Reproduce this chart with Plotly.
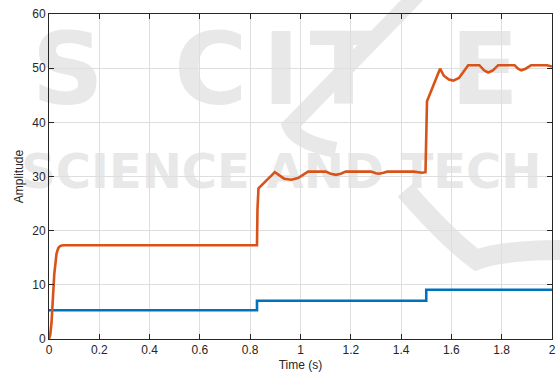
import plotly.graph_objects as go

# Reference input (step) and system response
t_ref = [0.0, 0.827, 1.5, 2.0]
u_ref = [5.3, 7.07, 9.1, 9.1]

t_out = [0, 0.005, 0.01, 0.015, 0.021, 0.03, 0.037, 0.043, 0.05, 0.06,
         0.827, 0.829, 0.833, 0.898, 0.915, 0.935, 0.964, 0.99, 1.01, 1.03,
         1.10, 1.12, 1.141, 1.16, 1.18, 1.28, 1.30, 1.312, 1.33, 1.345,
         1.45, 1.47, 1.483, 1.497, 1.5, 1.503, 1.555, 1.57, 1.59, 1.608,
         1.63, 1.65, 1.667, 1.711, 1.73, 1.746, 1.765, 1.786, 1.851, 1.865,
         1.878, 1.895, 1.917, 1.98, 2.0]
y_out = [0, 0.8, 3, 7, 12, 15.8, 16.8, 17.1, 17.25, 17.3,
         17.3, 24, 27.8, 30.8, 30.2, 29.6, 29.4, 29.7, 30.3, 30.9,
         30.9, 30.5, 30.3, 30.5, 30.9, 30.9, 30.6, 30.5, 30.7, 30.9,
         30.9, 30.75, 30.7, 30.8, 38, 43.9, 49.9, 48.6, 47.9, 47.7,
         48.2, 49.6, 50.55, 50.55, 49.6, 49.2, 49.6, 50.55, 50.55, 49.9,
         49.6, 49.9, 50.55, 50.55, 50.3]

x_ticks = [0, 0.2, 0.4, 0.6, 0.8, 1, 1.2, 1.4, 1.6, 1.8, 2]
x_labels = ["0", "0.2", "0.4", "0.6", "0.8", "1", "1.2", "1.4", "1.6", "1.8", "2"]
y_ticks = [0, 10, 20, 30, 40, 50, 60]

fig = go.Figure()
fig.add_trace(go.Scatter(x=t_ref, y=u_ref, mode="lines", line_shape="hv",
                         line=dict(color="#0072BD", width=2.6), showlegend=False))
fig.add_trace(go.Scatter(x=t_out, y=y_out, mode="lines",
                         line=dict(color="#D95319", width=2.6), showlegend=False))

# faint publisher watermark behind the axes content
L, R, T, B = 49, 556, 14, 339


def px(xp):
    return (xp - L) / (R - L)


def py(yp):
    return (B - yp) / (B - T)


def pt(xp, yp):
    return f"{px(xp):.4f},{py(yp):.4f}"


wm_color = "#e8e8e8"
for ch, cx in zip(["S", "C", "I", "T", "E"], [68, 212, 283, 346, 488]):
    fig.add_shape(type="rect", xref="paper", yref="paper",
                  x0=px(cx - 60), x1=px(cx + 60), y0=py(102), y1=py(22),
                  line=dict(width=0), fillcolor="rgba(0,0,0,0)", layer="below",
                  label=dict(text=ch, textposition="middle center",
                             font=dict(family="DejaVu Sans", size=100,
                                       color=wm_color, weight="bold")))
fig.add_shape(type="rect", xref="paper", yref="paper",
              x0=px(18), x1=px(556), y0=py(188), y1=py(148),
              line=dict(width=0), fillcolor="rgba(0,0,0,0)", layer="below",
              label=dict(text="SCIENCE AND TECH", textposition="middle left",
                         padding=0,
                         font=dict(family="DejaVu Sans", size=48,
                                   color=wm_color, weight="bold")))
# swoosh strokes of the logo
fig.add_shape(type="path", xref="paper", yref="paper", layer="below",
              path=f"M{pt(420, -5)} L{pt(292, 126)} Q{pt(298, 142)} {pt(338, 150)}",
              line=dict(color=wm_color, width=16))
fig.add_shape(type="path", xref="paper", yref="paper", layer="below",
              path=f"M{pt(408, 190)} Q{pt(450, 238)} {pt(480, 260)} Q{pt(505, 250)} {pt(570, 250)}",
              line=dict(color=wm_color, width=20))

axis_common = dict(showline=True, linecolor="#262626", linewidth=1, mirror="ticks",
                   ticks="inside", ticklen=5, tickcolor="#262626",
                   showgrid=True, gridcolor="#dedede", gridwidth=1, zeroline=False,
                   tickfont=dict(family="Liberation Sans", size=12, color="#262626"))

fig.update_xaxes(range=[0, 2], tickvals=x_ticks, ticktext=x_labels,
                 title=dict(text="Time (s)", standoff=4,
                            font=dict(family="Liberation Sans", size=12, color="#262626")),
                 **axis_common)
fig.update_yaxes(range=[0, 60], tickvals=y_ticks,
                 title=dict(text="Amplitude", standoff=6,
                            font=dict(family="Liberation Sans", size=12, color="#262626")),
                 **axis_common)

fig.update_layout(width=560, height=379,
                  margin=dict(l=49, r=4, t=14, b=40),
                  paper_bgcolor="white", plot_bgcolor="rgba(0,0,0,0)")

fig.write_html("out.html")
